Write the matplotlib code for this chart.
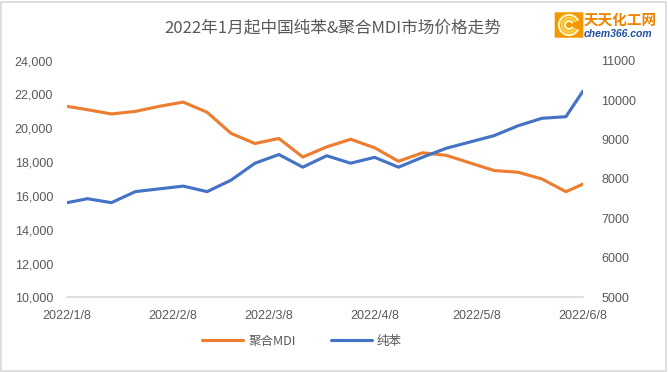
import matplotlib
matplotlib.use('Agg')
import matplotlib.pyplot as plt
import matplotlib.dates as mdates
from matplotlib.patches import FancyBboxPatch, Rectangle, Arc
from matplotlib.ticker import FuncFormatter, MultipleLocator
import datetime as dt

plt.rcParams['font.family'] = ['Liberation Sans', 'Noto Sans CJK SC', 'DejaVu Sans']

title = '2022年1月起中国纯苯&聚合MDI市场价格走势'
dates = ['2022-01-08', '2022-01-14', '2022-01-21', '2022-01-28', '2022-02-04', '2022-02-11',
         '2022-02-18', '2022-02-25', '2022-03-04', '2022-03-11', '2022-03-18', '2022-03-25',
         '2022-04-01', '2022-04-08', '2022-04-15', '2022-04-22', '2022-04-29', '2022-05-06',
         '2022-05-13', '2022-05-20', '2022-05-27', '2022-06-03', '2022-06-08']
mdi = [21300, 21100, 20850, 21000, 21300, 21550, 20950, 19700, 19100, 19400, 18300, 18900,
       19350, 18850, 18050, 18550, 18400, 17950, 17500, 17400, 17000, 16250, 16700]
benzene = [7400, 7500, 7400, 7680, 7750, 7820, 7680, 7970, 8400, 8620, 8300, 8590,
           8400, 8550, 8300, 8550, 8780, 8940, 9100, 9350, 9540, 9580, 10230]
tick_dates = ['2022-01-08', '2022-02-08', '2022-03-08', '2022-04-08', '2022-05-08', '2022-06-08']
tick_labels = ['2022/1/8', '2022/2/8', '2022/3/8', '2022/4/8', '2022/5/8', '2022/6/8']

x = [dt.datetime.strptime(d, '%Y-%m-%d') for d in dates]
xt = [dt.datetime.strptime(d, '%Y-%m-%d') for d in tick_dates]

W, H = 668, 372
fig = plt.figure(figsize=(W / 100, H / 100), dpi=100)
fig.patches.append(Rectangle((1 / W, 1 / H), 1 - 3 / W, 1 - 3 / H, transform=fig.transFigure,
                             fill=False, edgecolor='#d9d9d9', linewidth=1.2))

ax = fig.add_axes([67 / W, 1 - 297.3 / H, (583 - 67) / W, (297.3 - 60.7) / H])
ax2 = ax.twinx()

gray = '#595959'
l1, = ax.plot(x, mdi, color='#ED7D31', lw=2.25, solid_capstyle='round', label='聚合MDI')
l2, = ax2.plot(x, benzene, color='#4472C4', lw=2.25, solid_capstyle='round', label='纯苯')

ax.set_xlim(xt[0], xt[-1])
ax.set_ylim(10000, 24000)
ax2.set_ylim(5000, 11000)
ax.yaxis.set_major_locator(MultipleLocator(2000))
ax2.yaxis.set_major_locator(MultipleLocator(1000))
ax.yaxis.set_major_formatter(FuncFormatter(lambda v, p: f'{int(v):,}'))
ax.set_xticks(xt)
ax.set_xticklabels(tick_labels)

for a in (ax, ax2):
    for s in a.spines.values():
        s.set_visible(False)
    a.tick_params(length=0, labelsize=9, labelcolor=gray)
ax.spines['bottom'].set_visible(True)
ax.spines['bottom'].set_color('#d9d9d9')
ax.spines['bottom'].set_linewidth(1.2)
ax.tick_params(axis='y', pad=10)
ax2.tick_params(axis='y', pad=13)
ax.tick_params(axis='x', pad=9)

fig.text(333 / W, 1 - 28 / H, title, ha='center', va='center', fontsize=12, color=gray,
         family=['Noto Sans CJK SC', 'DejaVu Sans'])

fig.legend(handles=[l1, l2], loc='center', bbox_to_anchor=(302 / W, 1 - 341 / H), ncol=2,
           frameon=False, handlelength=3.3, columnspacing=2.8, handletextpad=0.4,
           labelcolor=gray, prop={'family': ['Noto Sans CJK SC'], 'size': 9})

# logo
fig.patches.append(FancyBboxPatch((556 / W, 1 - 37 / H), 26 / W, 24 / H,
                                  boxstyle='round,pad=0.002', transform=fig.transFigure,
                                  facecolor='#f39800', edgecolor='none'))
for r, c in [(20, '#fff3c0'), (14, '#ffd54a'), (8, '#fff3c0')]:
    fig.patches.append(Arc((569 / W, 1 - 25 / H), r / W, r / H, theta1=40, theta2=320,
                           transform=fig.transFigure, color=c, lw=1.6))
fig.text(584 / W, 1 - 19.5 / H, '天天化工网', fontsize=10.5, color='#f08300', fontweight='bold',
         va='center', ha='left', family=['Noto Sans CJK SC'])
fig.text(584 / W, 1 - 34 / H, 'chem366.com', fontsize=7.5, color='#1d4fa0', fontweight='bold',
         style='italic', va='center', ha='left')

fig.savefig('out.png', dpi=100)
